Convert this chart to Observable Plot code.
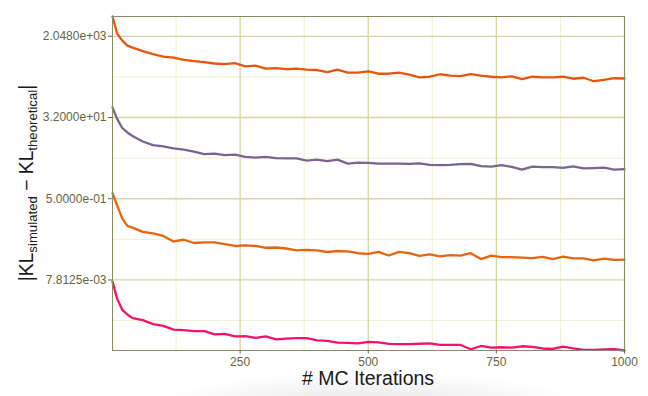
<!DOCTYPE html>
<html><head><meta charset="utf-8">
<script src="https://cdn.jsdelivr.net/npm/d3@7"></script>
<script src="https://cdn.jsdelivr.net/npm/@observablehq/plot@0.6"></script>
<style>html,body{margin:0;padding:0;background:#fff;} #chart svg{display:block}</style>
</head><body><div id="chart"></div>
<script>
const iterations = [1,10,20,30,40,60,80,100,120,140,160,180,200,220,240,260,280,300,320,340,360,380,400,420,440,460,480,500,520,540,560,580,600,620,640,660,680,700,720,740,760,780,800,820,840,860,880,900,920,940,960,980,1000];
const seriesA = [5638,2353,1641,1269,1145,
  957,820,721,685,609,572,543,508,491,516,
  438,454,389,399,379,389,370,364,325,370,
  317,317,339,301,301,317,286,251,258,293,
  272,267,296,272,258,251,264,229,258,251,
  251,258,233,245,205,221,239,236];
const seriesB = [53.7,29.8,18.7,14.9,12.4,
  9.35,7.81,7.31,6.59,6.20,5.59,4.92,5.05,4.67,4.80,
  4.26,4.11,4.26,4.00,3.94,3.94,3.52,3.71,3.43,3.71,
  3.02,3.18,3.15,3.02,3.02,3.02,2.99,3.05,2.84,2.79,
  2.84,2.94,2.97,2.65,2.59,2.79,2.56,2.22,2.59,2.52,
  2.52,2.43,2.61,2.36,2.40,2.46,2.22,2.27];
const seriesC = [0.662,0.357,0.183,0.1245,0.1141,
  0.0914,0.0846,0.0744,0.0561,0.0612,0.0519,0.0533,0.0538,0.0489,0.0445,
  0.0457,0.0445,0.0406,0.0412,0.0391,0.0357,0.0366,0.0357,0.0327,0.0344,
  0.0339,0.0307,0.0298,0.0330,0.0273,0.0330,0.0307,0.0268,0.0288,0.0261,
  0.0280,0.0273,0.0307,0.0228,0.0272,0.0252,0.0252,0.0246,0.0240,0.0255,
  0.0226,0.0259,0.0237,0.0237,0.0214,0.0233,0.0218,0.0222];
const seriesD = [0.00716,0.00299,0.001697,0.001332,0.001106,
  0.000999,0.000813,0.000745,0.000616,0.000600,0.000568,0.000568,0.000481,0.000494,0.000434,
  0.000439,0.000402,0.000434,0.000372,0.000386,0.000398,0.000396,0.000354,0.000345,0.000316,
  0.000311,0.000303,0.000328,0.000319,0.000295,0.000291,0.000291,0.000298,0.000303,0.000280,
  0.000280,0.000280,0.000225,0.000266,0.000244,0.000249,0.000244,0.000262,0.000253,0.000234,
  0.000228,0.000257,0.000234,0.000217,0.000217,0.000222,0.000225,0.000211];
const seriesNames = ["Series A","Series B","Series C","Series D"];
const seriesColors = ["#e8560c","#7b6590","#e9640f","#f5126b"];
const yTicks = [2048, 32, 0.5, 0.0078125];
const yMinor = [256, 4, 0.0625, 0.0009765625];
const xTicks = [250, 500, 750, 1000];
const xMinor = [125, 375, 625, 875];

const allSeries = [seriesA, seriesB, seriesC, seriesD];
const data = allSeries.flatMap((vals, i) => vals.map((v, j) => ({iteration: iterations[j], value: v, series: seriesNames[i]})));
const yDomain = d3.extent(data, d => d.value);

function sci(v) {
  return v.toExponential(4).replace(/e([+-])(\d+)$/, (m, s, d) => "e" + s + (d.length < 2 ? "0" + d : d));
}

const olive = "#67653f";
const plot = Plot.plot({
  width: 648, height: 396,
  marginLeft: 112, marginRight: 24, marginTop: 16, marginBottom: 46,
  style: {fontFamily: "'Liberation Sans', Arial, sans-serif", fontSize: "12px", background: "transparent", overflow: "visible"},
  x: {domain: [1, 1000]},
  y: {type: "log", base: 2, domain: yDomain},
  color: {domain: seriesNames, range: seriesColors},
  marks: [
    Plot.gridX(xMinor, {stroke: "#f0f0d2", strokeOpacity: 1, strokeWidth: 1}),
    Plot.gridY(yMinor, {stroke: "#f0f0d2", strokeOpacity: 1, strokeWidth: 1}),
    Plot.gridX(xTicks, {stroke: "#d6d6a0", strokeOpacity: 1, strokeWidth: 1.3}),
    Plot.gridY(yTicks, {stroke: "#d6d6a0", strokeOpacity: 1, strokeWidth: 1.3}),
    Plot.line(data, {x: "iteration", y: "value", z: "series", stroke: "series", strokeWidth: 2.3, strokeLinejoin: "round"}),
    Plot.frame({stroke: "#8d8b60", strokeWidth: 1}),
    Plot.axisX(xTicks, {tickSize: 3.5, tickPadding: 3, tickFormat: d => String(d), color: olive, label: null}),
    Plot.axisY(yTicks, {tickSize: 4, tickPadding: 2, tickFormat: sci, color: olive, label: null})
  ]
});

const svg = d3.select(plot);
// faint shadow under the x title
const defs = svg.append("defs");
const rg = defs.append("radialGradient").attr("id", "shadowGrad");
rg.append("stop").attr("offset", "0%").attr("stop-color", "#000").attr("stop-opacity", 0.09);
rg.append("stop").attr("offset", "100%").attr("stop-color", "#000").attr("stop-opacity", 0);
svg.insert("ellipse", ":first-child")
  .attr("cx", 370).attr("cy", 402).attr("rx", 210).attr("ry", 30)
  .attr("fill", "url(#shadowGrad)");
// y-axis title with subscripts
const yt = svg.append("text")
  .attr("transform", "translate(33,183) rotate(-90)")
  .attr("text-anchor", "middle")
  .attr("fill", "#1a1a1a")
  .style("font-family", "'Liberation Sans', Arial, sans-serif")
  .style("font-size", "19.3px");
yt.append("tspan").text("|KL");
yt.append("tspan").attr("dy", 4).style("font-size", "13.2px").text("simulated");
yt.append("tspan").attr("dy", -4).text(" \u2212 KL");
yt.append("tspan").attr("dy", 4).style("font-size", "13.2px").text("theoretical");
yt.append("tspan").attr("dy", -4).text("|");
// x-axis title
svg.append("text")
  .attr("x", 368).attr("y", 385)
  .attr("text-anchor", "middle")
  .attr("fill", "#1a1a1a")
  .style("font-family", "'Liberation Sans', Arial, sans-serif")
  .style("font-size", "19.5px")
  .text("# MC Iterations");

document.getElementById("chart").appendChild(plot);
</script>
</body></html>
